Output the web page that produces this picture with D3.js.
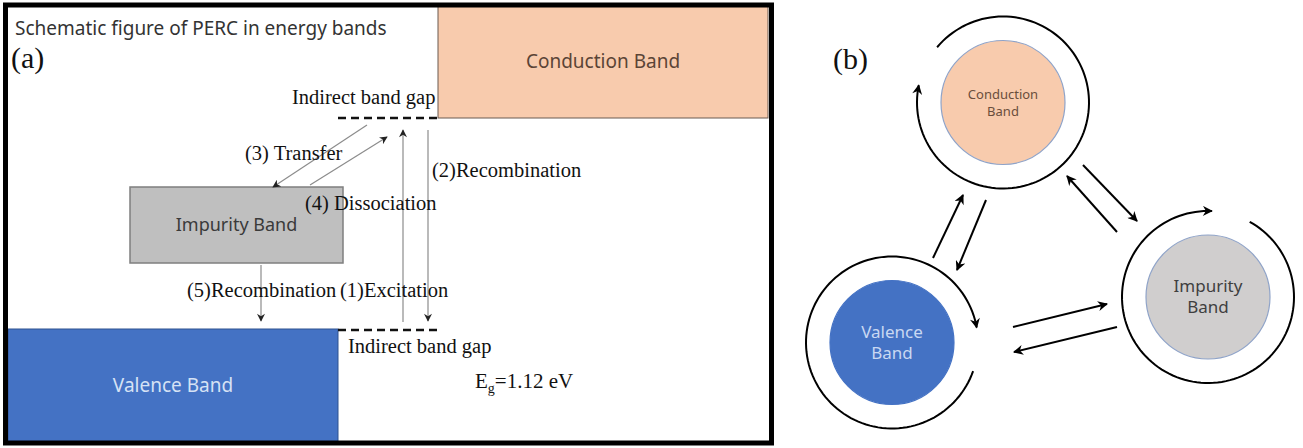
<!DOCTYPE html>
<html>
<head>
<meta charset="utf-8">
<script src="https://cdn.jsdelivr.net/npm/d3@7"></script>
<style>
  html, body { margin: 0; padding: 0; background: #fff; }
  svg { display: block; }
</style>
</head>
<body>
<svg id="fig" width="1303" height="448"></svg>
<script>
// ---- content ----
const titleText = "Schematic figure of PERC in energy bands";
const panelLabels = ["(a)", "(b)"];
const bandNames = ["Conduction Band", "Impurity Band", "Valence Band"];
const bandFills = ["#f8cbad", "#bfbfbf", "#4472c4"];
const bandTextColors = ["#5b4436", "#3a3a3a", "#d6e2f5"];
const gapLabel = "Indirect band gap";
const processLabels = ["(1)Excitation", "(2)Recombination", "(3) Transfer", "(4) Dissociation", "(5)Recombination"];
const gapEnergy = 1.12; // eV
const circleNames = [["Conduction", "Band"], ["Impurity", "Band"], ["Valence", "Band"]];
const circleFills = ["#f8cbad", "#d0cece", "#4472c4"];

const svg = d3.select("#fig");
const SANS = "'Noto Sans', 'Open Sans', sans-serif";
const SERIF = "'Liberation Serif', 'DejaVu Serif', serif";

// arrowhead markers
const defs = svg.append("defs");
function marker(id, color, w, h) {
  defs.append("marker")
    .attr("id", id).attr("viewBox", "0 0 10 10")
    .attr("refX", 9).attr("refY", 5)
    .attr("markerWidth", w).attr("markerHeight", h)
    .attr("markerUnits", "userSpaceOnUse")
    .attr("orient", "auto")
    .append("path").attr("d", "M0,0 L10,5 L0,10 L3,5 Z").attr("fill", color);
}
marker("headA", "#222", 9, 8);
marker("headB", "#000", 12, 10);

// ================= panel (a): band diagram =================
const A = svg.append("g");
const frame = { x: 5.5, y: 5, w: 766, h: 438 };

// bands: [x0, y0, x1, y1]
const bandRects = [
  [438, 5, 768, 118],
  [130, 187, 343, 263],
  [8, 329, 338, 443]
];
const bandStroke = ["#6b5a50", "#7f7f7f", "#2f528f"];
const bandFont = [19, 18, 19];

A.selectAll("rect.band").data(bandNames).join("rect")
  .attr("class", "band")
  .attr("x", (d, i) => bandRects[i][0]).attr("y", (d, i) => bandRects[i][1])
  .attr("width", (d, i) => bandRects[i][2] - bandRects[i][0])
  .attr("height", (d, i) => bandRects[i][3] - bandRects[i][1])
  .attr("fill", (d, i) => bandFills[i])
  .attr("stroke", (d, i) => bandStroke[i])
  .attr("stroke-width", (d, i) => i === 1 ? 1.5 : 1);

A.selectAll("text.band").data(bandNames).join("text")
  .attr("class", "band")
  .attr("x", (d, i) => (bandRects[i][0] + bandRects[i][2]) / 2)
  .attr("y", (d, i) => (bandRects[i][1] + bandRects[i][3]) / 2 + 6)
  .attr("text-anchor", "middle")
  .attr("font-family", SANS).attr("font-size", (d, i) => bandFont[i])
  .attr("fill", (d, i) => bandTextColors[i])
  .text(d => d);

// frame around panel (a)
A.append("rect")
  .attr("x", frame.x).attr("y", frame.y).attr("width", frame.w).attr("height", frame.h)
  .attr("fill", "none").attr("stroke", "#000").attr("stroke-width", 5);

A.append("text").attr("x", 15).attr("y", 35)
  .attr("font-family", SANS).attr("font-size", 19).attr("fill", "#333")
  .text(titleText);
A.append("text").attr("x", 11).attr("y", 68)
  .attr("font-family", SERIF).attr("font-size", 30).attr("fill", "#111")
  .text(panelLabels[0]);

// indirect gap edges (dashed)
const gapLines = [[338, 437, 118], [338, 437, 330]];
A.selectAll("line.gap").data(gapLines).join("line")
  .attr("x1", d => d[0]).attr("x2", d => d[1])
  .attr("y1", d => d[2]).attr("y2", d => d[2])
  .attr("stroke", "#111").attr("stroke-width", 2.6)
  .attr("stroke-dasharray", "8,5");

A.append("text").attr("x", 292).attr("y", 104)
  .attr("font-family", SERIF).attr("font-size", 20.5).attr("fill", "#111").text(gapLabel);
A.append("text").attr("x", 348).attr("y", 353)
  .attr("font-family", SERIF).attr("font-size", 20.5).attr("fill", "#111").text(gapLabel);

// process arrows: [x1, y1, x2, y2] with head at (x2, y2)
const processArrows = [
  [403, 322, 403, 130],
  [428, 130, 428, 321],
  [367, 125, 273, 187],
  [310, 185, 387, 137],
  [261, 265, 261, 321]
];
A.selectAll("line.proc").data(processArrows).join("line")
  .attr("x1", d => d[0]).attr("y1", d => d[1])
  .attr("x2", d => d[2]).attr("y2", d => d[3])
  .attr("stroke", "#8c8c8c").attr("stroke-width", 1.2)
  .attr("marker-end", "url(#headA)");

const processPos = [[340, 297], [432, 177], [245, 160], [305, 210], [187, 297]];
A.selectAll("text.proc").data(processLabels).join("text")
  .attr("class", "proc")
  .attr("x", (d, i) => processPos[i][0]).attr("y", (d, i) => processPos[i][1])
  .attr("font-family", SERIF).attr("font-size", 20.5).attr("fill", "#111")
  .text(d => d);

const eg = A.append("text").attr("x", 475).attr("y", 388)
  .attr("font-family", SERIF).attr("font-size", 21).attr("fill", "#111");
eg.append("tspan").text("E");
eg.append("tspan").attr("font-size", 14).attr("dy", 5).text("g");
eg.append("tspan").attr("dy", -5).text("=" + gapEnergy.toFixed(2) + " eV");

// ================= panel (b): cycle diagram =================
const B = svg.append("g");
B.append("text").attr("x", 833).attr("y", 69)
  .attr("font-family", SERIF).attr("font-size", 30).attr("fill", "#111")
  .text(panelLabels[1]);

const centers = [[1003, 102.5], [1208, 297], [892, 342.5]];
const rIn = 62, rOut = 86;
// ring arcs as [start, end] angles in degrees, clockwise from +x
const ringArcs = [[220, 191.6 + 360], [299, 272.6 + 360], [19.4, 350]];

B.selectAll("circle.node").data(circleNames).join("circle")
  .attr("cx", (d, i) => centers[i][0]).attr("cy", (d, i) => centers[i][1])
  .attr("r", rIn).attr("fill", (d, i) => circleFills[i])
  .attr("stroke", (d, i) => i === 2 ? "#4472c4" : "#8fa3c8").attr("stroke-width", 1.2);

const circleTextColors = ["#6a4e3c", "#3f3f3f", "#c9d8f2"];
const circleFont = [13, 17, 17];
const circleLineGap = [17, 21, 21];
circleNames.forEach((lines, i) => {
  const t = B.append("text")
    .attr("text-anchor", "middle")
    .attr("font-family", SANS).attr("font-size", circleFont[i])
    .attr("fill", circleTextColors[i]);
  lines.forEach((ln, j) => {
    t.append("tspan").attr("x", centers[i][0])
      .attr("y", centers[i][1] + (j - 0.5) * circleLineGap[i] + circleFont[i] * 0.35)
      .text(ln);
  });
});

function arcPath(cx, cy, r, a0, a1) {
  const pts = d3.range(0, 121).map(k => {
    const a = (a0 + (a1 - a0) * k / 120) * Math.PI / 180;
    return [cx + r * Math.cos(a), cy + r * Math.sin(a)];
  });
  return d3.line()(pts);
}
B.selectAll("path.ring").data(ringArcs).join("path")
  .attr("d", (d, i) => arcPath(centers[i][0], centers[i][1], rOut, d[0], d[1]))
  .attr("fill", "none").attr("stroke", "#000").attr("stroke-width", 2)
  .attr("marker-end", "url(#headB)");

// transition arrows between bands
const linkArrows = [
  [933, 258, 963, 195],
  [986, 200, 957, 270],
  [1083, 165, 1137, 221],
  [1117, 232, 1067, 176],
  [1013, 327, 1107, 304],
  [1117, 327, 1014, 352]
];
B.selectAll("line.link").data(linkArrows).join("line")
  .attr("x1", d => d[0]).attr("y1", d => d[1])
  .attr("x2", d => d[2]).attr("y2", d => d[3])
  .attr("stroke", "#000").attr("stroke-width", 2)
  .attr("marker-end", "url(#headB)");
</script>
</body>
</html>
